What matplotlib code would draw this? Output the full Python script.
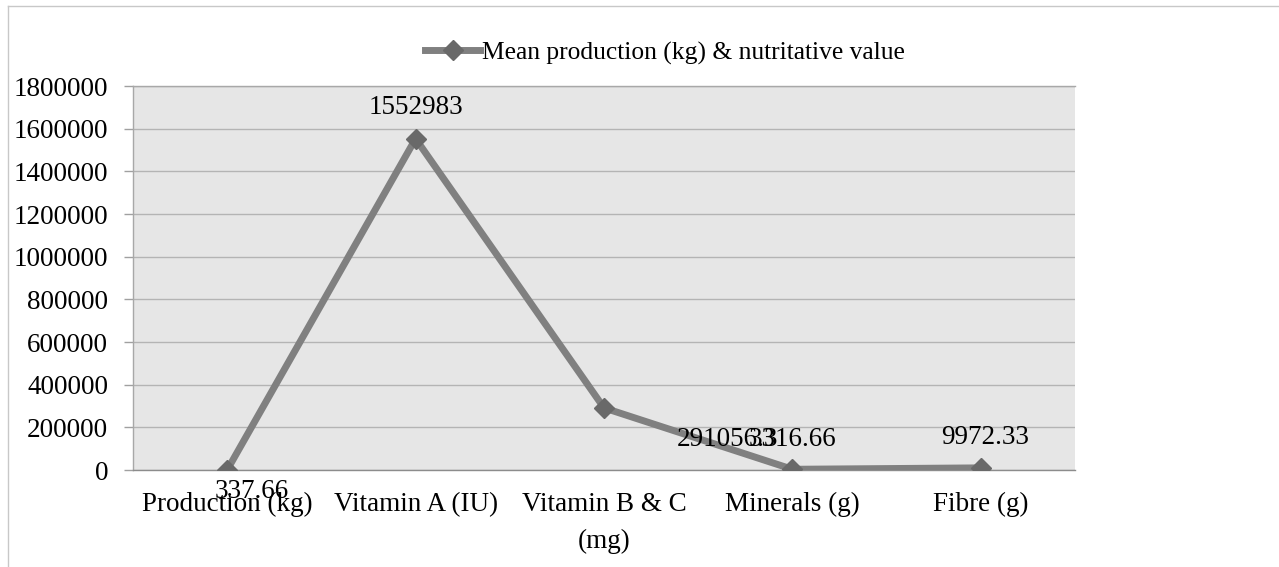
#!/usr/bin/env python3
import matplotlib
matplotlib.use('Agg')
import matplotlib.pyplot as plt
from matplotlib.lines import Line2D

categories = ["Production (kg)", "Vitamin A (IU)", "Vitamin B & C\n(mg)",
              "Minerals (g)", "Fibre (g)"]
values = [337.66, 1552983, 291056.3, 3316.66, 9972.33]
value_labels = ["337.66", "1552983", "291056.3", "3316.66", "9972.33"]
series_name = "Mean production (kg) & nutritative value"
y_ticks = list(range(0, 1800001, 200000))

# where each data label sits relative to its point (pixels)
label_offsets = [(25, -22), (0, 31), (123, -32), (0, 30), (4, 30)]

plt.rcParams['font.family'] = ['Liberation Serif', 'DejaVu Serif']
FS = 19.5

fig = plt.figure(figsize=(12.79, 5.67), dpi=100)
ax = fig.add_axes([133 / 1279, 1 - 470 / 567, (1075 - 133) / 1279, (470 - 86) / 567])
ax.set_facecolor('#e6e6e6')

x = list(range(len(categories)))
ax.plot(x, values, color='#808080', linewidth=5, marker='D', markersize=10.5,
        markerfacecolor='#696969', markeredgecolor='#696969',
        label=series_name, zorder=3, solid_joinstyle='miter')

for xi, v, lab, off in zip(x, values, value_labels, label_offsets):
    ax.annotate(lab, (xi, v), xytext=off, textcoords='offset pixels',
                ha='center', va='center', fontsize=FS, color='black',
                zorder=4, annotation_clip=False)

ax.set_xlim(-0.5, len(categories) - 0.5)
ax.set_ylim(0, 1800000)
ax.set_yticks(y_ticks)
ax.set_yticklabels([str(t) for t in y_ticks])
ax.set_xticks(x)
ax.set_xticklabels(categories, linespacing=1.6)
ax.tick_params(axis='x', length=0, pad=16, labelsize=FS)
ax.tick_params(axis='y', length=6.5, width=1, color='#a0a0a0', pad=11.5, labelsize=FS)

ax.grid(axis='y', color='#b4b4b4', linewidth=1)
ax.set_axisbelow(True)
ax.spines['right'].set_visible(False)
ax.spines['top'].set_color('#a8a8a8')
ax.spines['left'].set_color('#a8a8a8')
ax.spines['bottom'].set_color('#8c8c8c')
for s in ax.spines.values():
    s.set_linewidth(1)

fig.legend(loc='center', bbox_to_anchor=(665 / 1279, 1 - 53 / 567), frameon=False,
           fontsize=18.4, handlelength=2.15, handletextpad=0.05, borderpad=0)

# outer chart border, partly cut off
fig.add_artist(Line2D([8 / 1279, 1], [1 - 6 / 567, 1 - 6 / 567],
                      transform=fig.transFigure, color='#c8c8c8', linewidth=1))
fig.add_artist(Line2D([8 / 1279, 8 / 1279], [0, 1 - 6 / 567],
                      transform=fig.transFigure, color='#c8c8c8', linewidth=1))

fig.savefig('out.png', dpi=100)
